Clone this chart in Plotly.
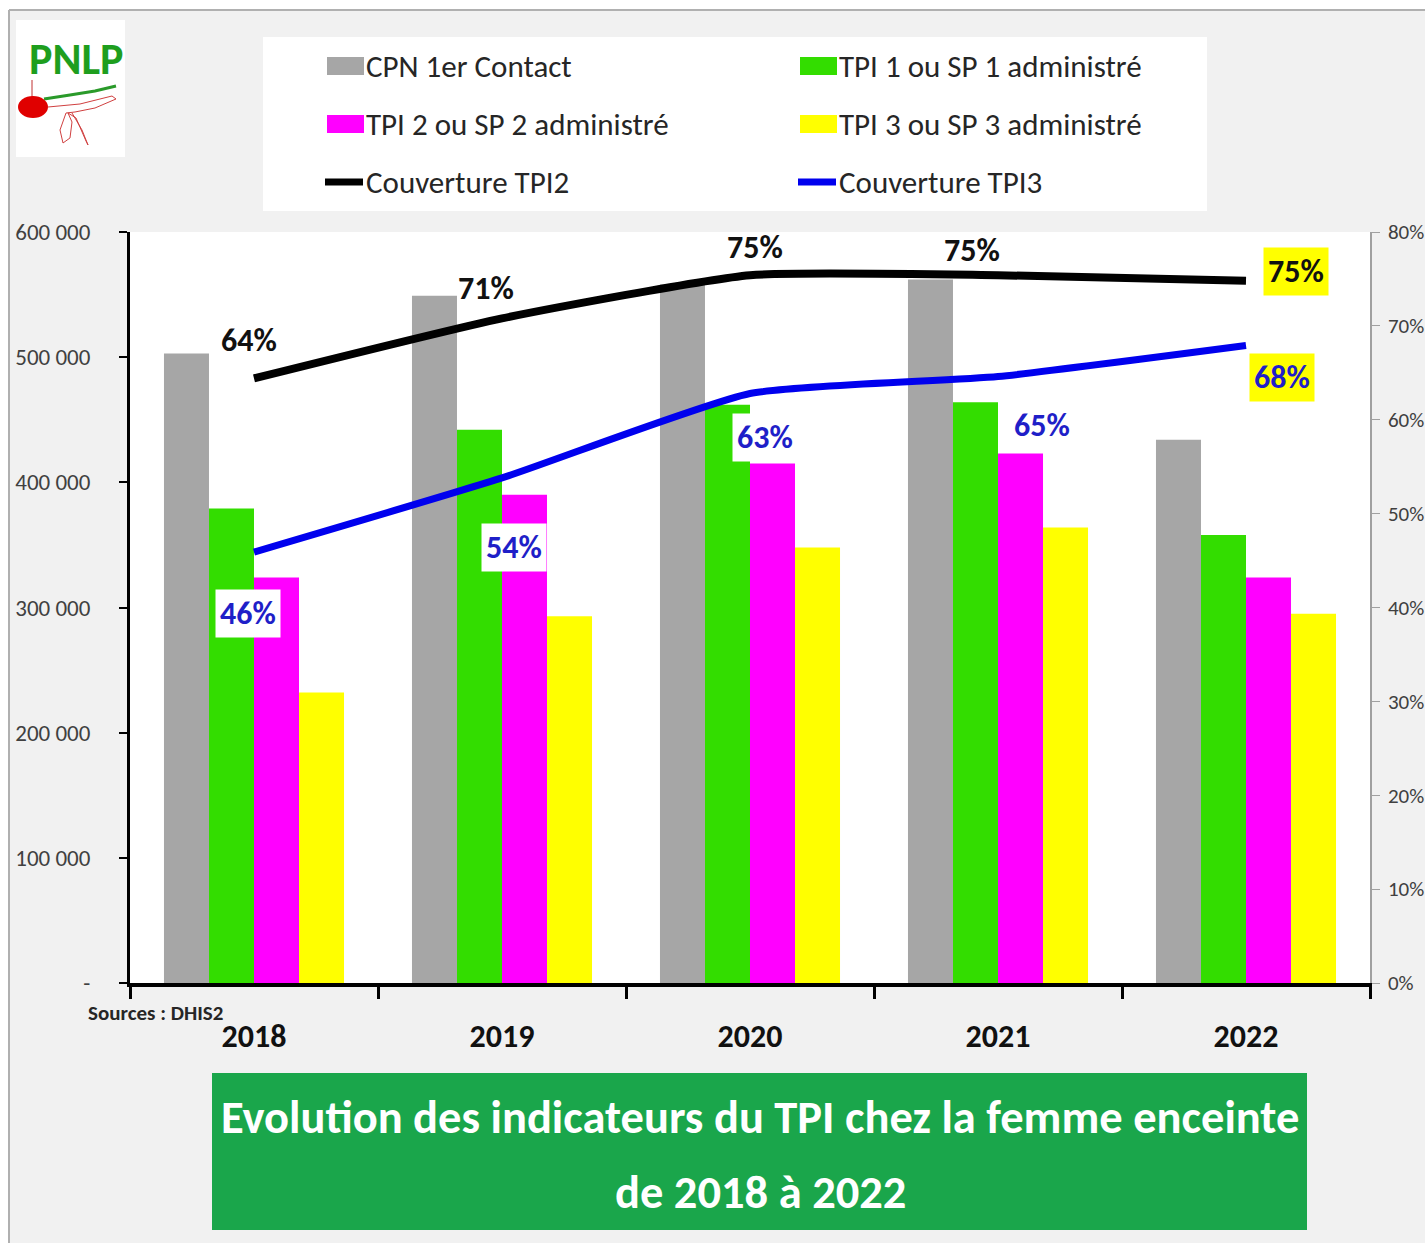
import plotly.graph_objects as go

# ---------------- data ----------------
years = ["2018", "2019", "2020", "2021", "2022"]
cpn_1er_contact = [503000, 549000, 558000, 562000, 434000]
tpi1_administre = [379000, 442000, 462000, 464000, 358000]
tpi2_administre = [324000, 390000, 415000, 423000, 324000]
tpi3_administre = [232000, 293000, 348000, 364000, 295000]
couverture_tpi2 = [0.644, 0.708, 0.754, 0.754, 0.748]
couverture_tpi3 = [0.459, 0.538, 0.628, 0.646, 0.679]

left_tickvals = [0, 100000, 200000, 300000, 400000, 500000, 600000]
left_ticktext = ["-", "100 000", "200 000", "300 000", "400 000", "500 000", "600 000"]
right_tickvals = [0, 0.1, 0.2, 0.3, 0.4, 0.5, 0.6, 0.7, 0.8]
right_ticktext = ["0%", "10%", "20%", "30%", "40%", "50%", "60%", "70%", "80%"]

series_names = ["CPN 1er Contact", "TPI 1 ou SP 1 administré",
                "TPI 2 ou SP 2 administré", "TPI 3 ou SP 3 administré",
                "Couverture TPI2", "Couverture TPI3"]
title_lines = ["Evolution des indicateurs du TPI chez la femme enceinte", "de 2018 à 2022"]
source_text = "Sources : DHIS2"

# ---------------- styles ----------------
FONT = "Carlito, Calibri, Lato, sans-serif"
C_GRAY, C_GREEN, C_MAG, C_YEL = "#a6a6a6", "#33dd00", "#ff00ff", "#ffff00"
C_BLACK, C_BLUE = "#000000", "#0000ee"
C_TXT = "#262626"

WIDTH, HEIGHT = 1425, 1243
L, R, T, B = 130, 55, 232, 260
PW, PH = WIDTH - L - R, HEIGHT - T - B
BOTTOM_PX = HEIGHT - B


def px_x(px):
    return (px - L) / PW


def px_y(py):
    return (BOTTOM_PX - py) / PH


fig = go.Figure()

for name, vals, col in [(series_names[0], cpn_1er_contact, C_GRAY),
                        (series_names[1], tpi1_administre, C_GREEN),
                        (series_names[2], tpi2_administre, C_MAG),
                        (series_names[3], tpi3_administre, C_YEL)]:
    fig.add_trace(go.Bar(x=years, y=vals, name=name, marker=dict(color=col, line=dict(width=0)),
                         showlegend=False))

fig.add_trace(go.Scatter(x=years, y=couverture_tpi2, name=series_names[4], yaxis="y2", mode="lines",
                         line=dict(color=C_BLACK, width=8, shape="spline", smoothing=0.5),
                         showlegend=False))
fig.add_trace(go.Scatter(x=years, y=couverture_tpi3, name=series_names[5], yaxis="y2", mode="lines",
                         line=dict(color=C_BLUE, width=7, shape="spline", smoothing=0.5),
                         showlegend=False))

# ---------------- data labels ----------------
tpi2_label_style = [
    dict(xshift=-5, yshift=38, bg=None),
    dict(xshift=-16, yshift=30, bg=None),
    dict(xshift=5, yshift=28, bg=None),
    dict(xshift=-26, yshift=25, bg=None),
    dict(xshift=50, yshift=9, bg=C_YEL),
]
tpi3_label_style = [
    dict(xshift=-6, yshift=-61, bg="white"),
    dict(xshift=12, yshift=-70, bg="white"),
    dict(xshift=15, yshift=-44, bg="white"),
    dict(xshift=44, yshift=-49, bg="white"),
    dict(xshift=36, yshift=-32, bg=C_YEL),
]
annotations = []
for vals, styles, col in [(couverture_tpi2, tpi2_label_style, "#111111"),
                          (couverture_tpi3, tpi3_label_style, "#1f1fc8")]:
    for i, (v, st) in enumerate(zip(vals, styles)):
        annotations.append(dict(
            x=i, y=v, xref="x", yref="y2", text=f"{round(v * 100):d}%", showarrow=False,
            xshift=st["xshift"], yshift=st["yshift"],
            font=dict(family=FONT, size=32, color=col, weight="bold"),
            bgcolor=st["bg"] if st["bg"] else "rgba(0,0,0,0)", borderpad=4,
        ))

# ---------------- shapes (frame, logo, legend, title box) ----------------
shapes = []
shapes.append(dict(type="rect", xref="paper", yref="paper", x0=px_x(0), x1=px_x(WIDTH),
                   y0=px_y(10), y1=px_y(0), fillcolor="white", line=dict(width=0), layer="below"))
shapes.append(dict(type="rect", xref="paper", yref="paper", x0=px_x(0), x1=px_x(9),
                   y0=px_y(HEIGHT), y1=px_y(0), fillcolor="white", line=dict(width=0), layer="below"))
shapes.append(dict(type="line", xref="paper", yref="paper", x0=px_x(9), x1=px_x(WIDTH),
                   y0=px_y(10), y1=px_y(10), line=dict(color="#b0b0b0", width=2), layer="below"))
shapes.append(dict(type="line", xref="paper", yref="paper", x0=px_x(9), x1=px_x(9),
                   y0=px_y(10), y1=px_y(HEIGHT), line=dict(color="#b0b0b0", width=2), layer="below"))

# logo
shapes.append(dict(type="rect", xref="paper", yref="paper", x0=px_x(16), x1=px_x(125),
                   y0=px_y(157), y1=px_y(20), fillcolor="white", line=dict(width=0), layer="below"))


def path_px(points, close=False):
    s = "M " + " L ".join(f"{px_x(a):.5f},{px_y(b):.5f}" for a, b in points)
    return s + (" Z" if close else "")


shapes.append(dict(type="path", xref="paper", yref="paper",
                   path=path_px([(44, 99), (70, 95), (95, 91), (116, 86)]),
                   line=dict(color="#2a9a2a", width=3)))
shapes.append(dict(type="path", xref="paper", yref="paper",
                   path=path_px([(48, 107), (80, 104), (112, 96), (116, 99), (95, 108), (75, 112), (66, 113)]),
                   line=dict(color="#d04040", width=1)))
shapes.append(dict(type="path", xref="paper", yref="paper",
                   path=path_px([(66, 113), (60, 130), (63, 143), (70, 138), (72, 122), (68, 113),
                                 (76, 118), (86, 141), (88, 145), (82, 130), (72, 113)]),
                   line=dict(color="#d04040", width=1)))
shapes.append(dict(type="path", xref="paper", yref="paper",
                   path=path_px([(32, 80), (32, 98)]), line=dict(color="#c03030", width=1)))
shapes.append(dict(type="circle", xref="paper", yref="paper", x0=px_x(18), x1=px_x(48),
                   y0=px_y(118), y1=px_y(96), fillcolor="#e00000", line=dict(width=0)))

# legend box
shapes.append(dict(type="rect", xref="paper", yref="paper", x0=px_x(263), x1=px_x(1207),
                   y0=px_y(211), y1=px_y(37), fillcolor="white", line=dict(width=0), layer="below"))
legend_items = [
    (series_names[0], C_GRAY, "box", 327, 66),
    (series_names[1], C_GREEN, "box", 800, 66),
    (series_names[2], C_MAG, "box", 327, 124),
    (series_names[3], C_YEL, "box", 800, 124),
    (series_names[4], C_BLACK, "line", 327, 182),
    (series_names[5], C_BLUE, "line", 800, 182),
]
for name, col, kind, xpx, ypx in legend_items:
    if kind == "box":
        shapes.append(dict(type="rect", xref="paper", yref="paper", x0=px_x(xpx), x1=px_x(xpx + 37),
                           y0=px_y(ypx + 9), y1=px_y(ypx - 9), fillcolor=col, line=dict(width=0)))
    else:
        shapes.append(dict(type="line", xref="paper", yref="paper", x0=px_x(xpx - 2), x1=px_x(xpx + 36),
                           y0=px_y(ypx), y1=px_y(ypx), line=dict(color=col, width=7)))
    annotations.append(dict(x=px_x(xpx + 37), y=px_y(ypx), xref="paper", yref="paper", text=name,
                            showarrow=False, xanchor="left", yanchor="middle",
                            font=dict(family=FONT, size=31, color=C_TXT)))

# title box
shapes.append(dict(type="rect", xref="paper", yref="paper", x0=px_x(212), x1=px_x(1307),
                   y0=px_y(1230), y1=px_y(1073), fillcolor="#1aa64b", line=dict(width=0)))
for line_txt, ypx in zip(title_lines, [1117, 1192]):
    annotations.append(dict(x=px_x(760), y=px_y(ypx), xref="paper", yref="paper", text=line_txt,
                            showarrow=False, xanchor="center", yanchor="middle",
                            font=dict(family=FONT, size=46.5, color="white", weight="bold")))

annotations.append(dict(x=px_x(86), y=px_y(1013), xref="paper", yref="paper", text=source_text,
                        showarrow=False, xanchor="left", yanchor="middle",
                        font=dict(family=FONT, size=21, color=C_TXT, weight="bold")))
annotations.append(dict(x=px_x(76), y=px_y(88), xref="paper", yref="paper", text="PNLP",
                        showarrow=False, xanchor="center", yanchor="bottom",
                        font=dict(family=FONT, size=44, color="#1e9e1e", weight="bold")))

fig.update_layout(
    width=WIDTH, height=HEIGHT,
    margin=dict(l=L, r=R, t=T, b=B, autoexpand=False),
    paper_bgcolor="#f1f1f1", plot_bgcolor="white",
    barmode="group", bargap=0.274, bargroupgap=0,
    font=dict(family=FONT, color=C_TXT),
    showlegend=False,
    xaxis=dict(type="category", range=[-0.5, 4.5], showline=True, linecolor="black", linewidth=4,
               ticks="outside", tickson="boundaries", ticklen=12, tickwidth=3, tickcolor="black",
               tickfont=dict(family=FONT, size=32, color="#111111", weight="bold"),
               ticklabelstandoff=22, showgrid=False, zeroline=False),
    yaxis=dict(range=[0, 600000], tickvals=left_tickvals, ticktext=left_ticktext,
               showline=True, linecolor="black", linewidth=3, ticks="outside", ticklen=8,
               tickwidth=2, tickcolor="black", showgrid=False, zeroline=False,
               tickfont=dict(family=FONT, size=23, color="#404040"), ticklabelstandoff=24),
    yaxis2=dict(range=[0, 0.8], overlaying="y", side="right", tickvals=right_tickvals,
                ticktext=right_ticktext, showline=True, linecolor="#a0a0a0", linewidth=1.5,
                ticks="outside", ticklen=8, tickwidth=1, tickcolor="#a0a0a0", showgrid=False,
                zeroline=False, tickfont=dict(family=FONT, size=21, color="#404040"),
                ticklabelstandoff=4),
    shapes=shapes,
    annotations=annotations,
)

fig.write_html("out.html", config={"displayModeBar": False},
               post_script="document.body.style.margin='0px';document.body.style.overflow='hidden';")
